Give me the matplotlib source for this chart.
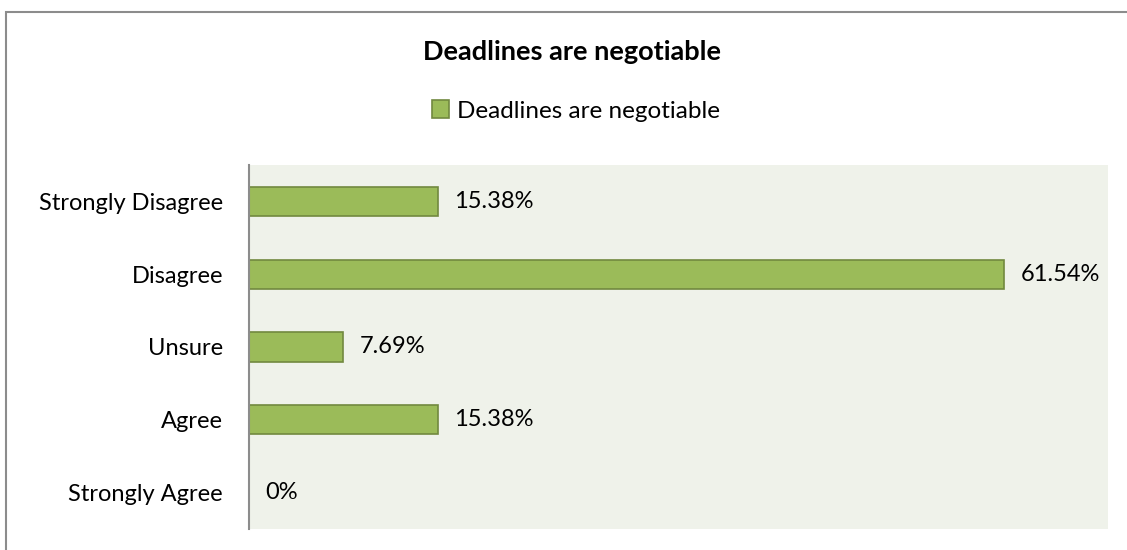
import matplotlib
matplotlib.use("Agg")
import matplotlib.pyplot as plt
from matplotlib.patches import Rectangle

categories = ["Strongly Agree", "Agree", "Unsure", "Disagree", "Strongly Disagree"]
values = [0.0, 15.38, 7.69, 61.54, 15.38]
labels = ["0%", "15.38%", "7.69%", "61.54%", "15.38%"]
series_name = "Deadlines are negotiable"
title = "Deadlines are negotiable"

plt.rcParams["font.family"] = ["Lato", "DejaVu Sans"]

W, H = 1127, 550
fig = plt.figure(figsize=(W / 100, H / 100), dpi=100)

# outer chart frame (only left and top edges fall inside the canvas)
fig.patches.append(Rectangle((6 / W, -0.1), 1.2, (H - 12) / H + 0.1,
                             transform=fig.transFigure, fill=False,
                             edgecolor="#8c8c8c", linewidth=1.5))

left, right, top, bottom = 249, 1108, 165, 529
ax = fig.add_axes([left / W, 1 - bottom / H, (right - left) / W, (bottom - top) / H])
ax.set_facecolor("#eff2ea")

bars = ax.barh(range(len(categories)), values, height=0.4,
               color="#9bbb59", edgecolor="#71893f", linewidth=1.2,
               label=series_name)
ax.set_xlim(0, 70)
ax.set_ylim(-0.5, len(categories) - 0.5)
ax.set_yticks(range(len(categories)))
ax.set_yticklabels(categories, fontsize=17)
ax.tick_params(axis="y", length=0, pad=18.7)
ax.set_xticks([])
for s in ["top", "right", "bottom"]:
    ax.spines[s].set_visible(False)
ax.spines["left"].set_color("#8c8c8c")
ax.spines["left"].set_linewidth(1.5)

for b, v, t in zip(bars, values, labels):
    ax.annotate(t, (v, b.get_y() + b.get_height() / 2), xytext=(12, 0),
                textcoords="offset points", va="center", ha="left", fontsize=17)

fig.text(572 / W, 1 - 52 / H, title, ha="center", va="center",
         fontsize=19.5, fontweight="bold")
leg = fig.legend(handles=[bars], labels=[series_name], loc="center",
                 bbox_to_anchor=(576 / W, 1 - 111 / H), frameon=False,
                 fontsize=17.5, handlelength=0.7, handleheight=0.7,
                 handletextpad=0.3)

fig.savefig("out.png", dpi=100)
